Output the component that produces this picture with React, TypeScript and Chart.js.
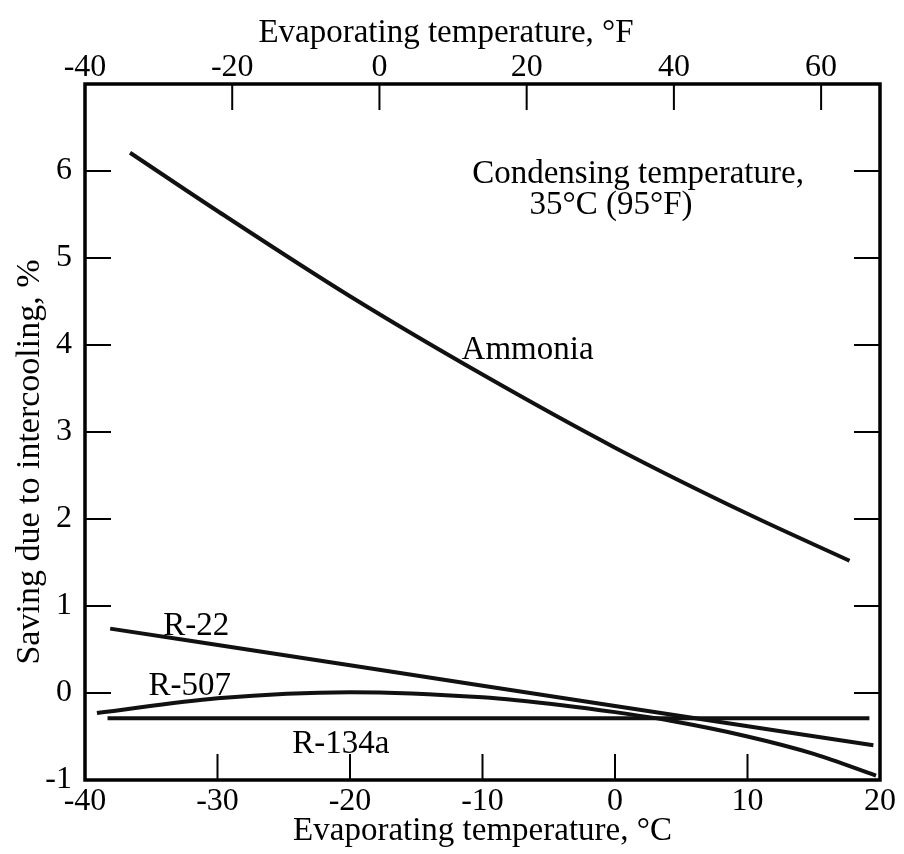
import React, { useEffect, useRef } from "react";
import { Chart, registerables } from "chart.js";

Chart.register(...registerables);

// ---- data ----
const ammoniaC = [-36.6, -30, -20, -10, 0, 10, 17.7];
const ammoniaSaving = [6.21, 5.54, 4.56, 3.66, 2.82, 2.06, 1.52];

const r22C = [-38.1, -20, 0, 19.5];
const r22Saving = [0.74, 0.32, -0.15, -0.6];

const r507C = [-39.1, -30, -20, -10, -4, 0, 4.2, 10, 15, 19.7];
const r507Saving = [-0.23, -0.06, 0.01, -0.05, -0.14, -0.22, -0.32, -0.5, -0.7, -0.95];

const r134aC = [-38.3, 19.2];
const r134aSaving = [-0.29, -0.29];

// ---- ticks ----
const xTicksC = [-40, -30, -20, -10, 0, 10, 20];
const xTicksF = [-40, -20, 0, 20, 40, 60];
const yTicks = [-1, 0, 1, 2, 3, 4, 5, 6];

// ---- text ----
const curveLabels = ["Ammonia", "R-22", "R-507", "R-134a"];
const curveLabelX = [-6.6, -31.6, -32.1, -20.7];
const curveLabelY = [4.01, 0.83, 0.14, -0.52];

const noteLines = ["Condensing temperature,", "35°C (95°F)"];
const noteX = [1.74, -0.3];
const noteY = [6.03, 5.67];

const topTitle = "Evaporating temperature, °F";
const bottomTitle = "Evaporating temperature, °C";
const leftTitle = "Saving due to intercooling, %";

const FONT = "'Liberation Serif', 'Times New Roman', serif";

function pts(xs: number[], ys: number[]) {
  return xs.map((x, i) => ({ x, y: ys[i] }));
}

const decorPlugin = {
  id: "decor",
  afterDraw(chart: any) {
    const ctx = chart.ctx as CanvasRenderingContext2D;
    const { left, right, top, bottom } = chart.chartArea;
    const sx = chart.scales.x;
    const sf = chart.scales.xF;
    const sy = chart.scales.y;
    ctx.save();
    // frame
    ctx.strokeStyle = "#000";
    ctx.lineWidth = 3.5;
    ctx.strokeRect(left, top, right - left, bottom - top);
    // inward ticks
    const L = 26;
    ctx.lineWidth = 2;
    ctx.beginPath();
    xTicksC.forEach((v) => {
      if (v <= sx.min || v >= sx.max) return;
      const p = sx.getPixelForValue(v);
      ctx.moveTo(p, bottom);
      ctx.lineTo(p, bottom - L);
    });
    xTicksF.forEach((v) => {
      if (v <= sf.min || v >= sf.max) return;
      const p = sf.getPixelForValue(v);
      ctx.moveTo(p, top);
      ctx.lineTo(p, top + L);
    });
    yTicks.forEach((v) => {
      if (v <= sy.min || v >= sy.max) return;
      const p = sy.getPixelForValue(v);
      ctx.moveTo(left, p);
      ctx.lineTo(left + L, p);
      ctx.moveTo(right, p);
      ctx.lineTo(right - L, p);
    });
    ctx.stroke();

    // annotations
    const nudge = 6;
    ctx.fillStyle = "#000";
    ctx.textAlign = "center";
    ctx.textBaseline = "middle";
    ctx.font = `33px ${FONT}`;
    curveLabels.forEach((t, i) => {
      ctx.fillText(t, sx.getPixelForValue(curveLabelX[i]), sy.getPixelForValue(curveLabelY[i]) + nudge);
    });
    noteLines.forEach((t, i) => {
      ctx.fillText(t, sx.getPixelForValue(noteX[i]), sy.getPixelForValue(noteY[i]) + nudge);
    });

    // top axis title
    ctx.fillText(topTitle, 446, 33);

    // y-axis title
    ctx.save();
    ctx.translate(30, 462);
    ctx.rotate(-Math.PI / 2);
    ctx.font = `34px ${FONT}`;
    ctx.fillText(leftTitle, 0, 0);
    ctx.restore();

    ctx.restore();
  },
};

export default function App() {
  const ref = useRef<HTMLCanvasElement | null>(null);

  useEffect(() => {
    if (!ref.current) return;
    const line = {
      showLine: true,
      pointRadius: 0,
      borderWidth: 4,
      borderColor: "#111",
      backgroundColor: "#111",
      cubicInterpolationMode: "monotone" as const,
      fill: false,
    };
    const tickFont = { family: FONT, size: 32 };
    const titleFont = { family: FONT, size: 33 };
    const chart = new Chart(ref.current, {
      type: "scatter",
      data: {
        datasets: [
          { label: "Ammonia", data: pts(ammoniaC, ammoniaSaving), ...line },
          { label: "R-22", data: pts(r22C, r22Saving), ...line },
          { label: "R-507", data: pts(r507C, r507Saving), ...line },
          { label: "R-134a", data: pts(r134aC, r134aSaving), ...line },
        ],
      },
      options: {
        animation: false,
        responsive: false,
        layout: { padding: 0 },
        plugins: {
          legend: { display: false },
          tooltip: { enabled: false },
        },
        scales: {
          x: {
            type: "linear",
            position: "bottom",
            min: -40,
            max: 20,
            afterBuildTicks: (s: any) => {
              s.ticks = xTicksC.map((value) => ({ value }));
            },
            afterFit: (s: any) => {
              s.height = 74;
            },
            grid: { display: false, drawTicks: false },
            border: { display: false },
            ticks: { font: tickFont, color: "#000", padding: 2, maxRotation: 0, autoSkip: false },
            title: {
              display: true,
              text: bottomTitle,
              font: titleFont,
              color: "#000",
              padding: { top: 0, bottom: 3 },
            },
          },
          xF: {
            type: "linear",
            position: "top",
            min: -40,
            max: 68,
            afterBuildTicks: (s: any) => {
              s.ticks = xTicksF.map((value) => ({ value }));
            },
            afterFit: (s: any) => {
              s.height = 84;
            },
            grid: { display: false, drawTicks: false },
            border: { display: false },
            ticks: { font: tickFont, color: "#000", padding: -3, maxRotation: 0, autoSkip: false },
          },
          y: {
            type: "linear",
            position: "left",
            min: -1,
            max: 7,
            afterBuildTicks: (s: any) => {
              s.ticks = yTicks.map((value) => ({ value }));
            },
            afterFit: (s: any) => {
              s.width = 85;
            },
            grid: { display: false, drawTicks: false },
            border: { display: false },
            ticks: { font: tickFont, color: "#000", padding: 13, autoSkip: false },
          },
          yR: {
            type: "linear",
            position: "right",
            min: -1,
            max: 7,
            afterFit: (s: any) => {
              s.width = 24;
            },
            grid: { display: false, drawTicks: false },
            border: { display: false },
            ticks: { display: false },
          },
        },
      },
      plugins: [decorPlugin],
    });
    return () => chart.destroy();
  }, []);

  return (
    <div style={{ position: "absolute", left: 0, top: 0, width: 904, height: 854, background: "#fff" }}>
      <canvas ref={ref} width={904} height={854} style={{ display: "block" }} />
    </div>
  );
}
